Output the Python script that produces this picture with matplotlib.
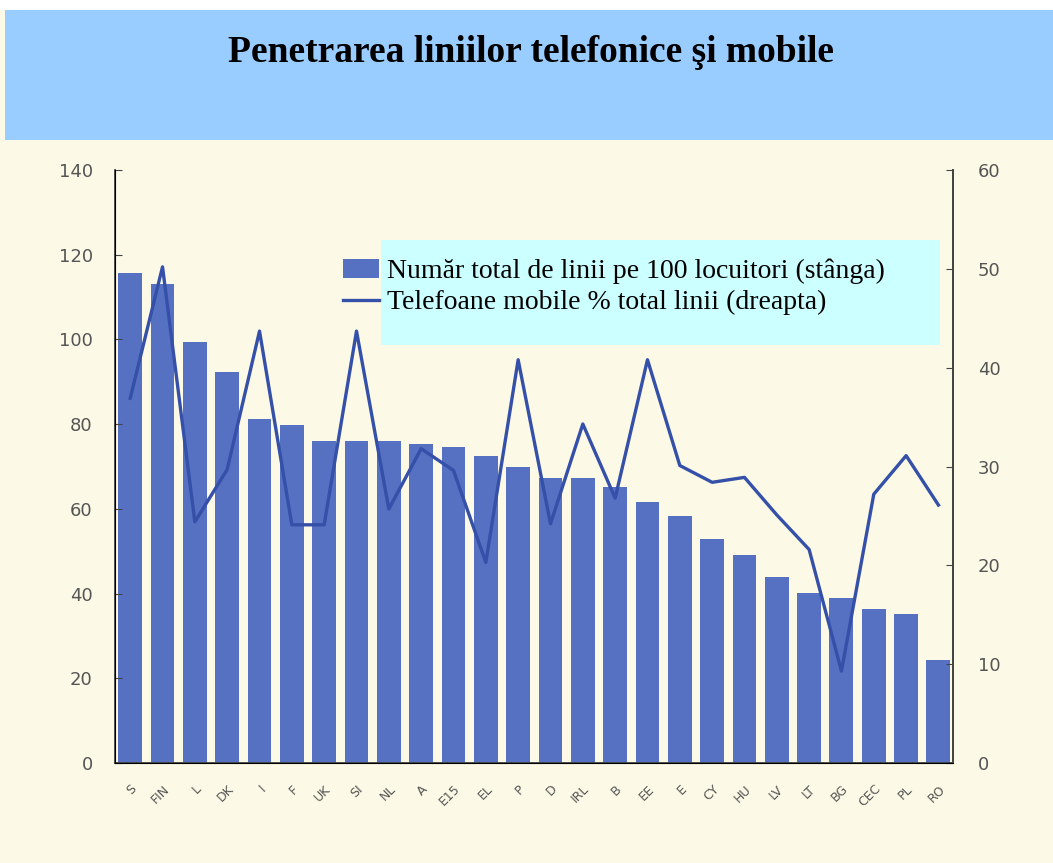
import matplotlib.pyplot as plt
from matplotlib.patches import Rectangle
from matplotlib.lines import Line2D
from matplotlib.patches import Patch
import numpy as np

# country codes on the x axis
countries = ["S", "FIN", "L", "DK", "I", "F", "UK", "SI", "NL", "A", "E15", "EL", "P",
             "D", "IRL", "B", "EE", "E", "CY", "HU", "LV", "LT", "BG", "CEC", "PL", "RO"]

# total lines per 100 inhabitants (left axis)
total_lines = [115.7, 113, 99.5, 92.2, 81.2, 79.9, 76, 76, 76, 75.4, 74.7, 72.5, 69.9,
               67.2, 67.2, 65.2, 61.6, 58.4, 52.8, 49, 43.9, 40.2, 38.9, 36.3, 35.1, 24.3]

# mobile phones as % of total lines (right axis)
mobile_share = [36.9, 50.2, 24.4, 29.7, 43.7, 24.1, 24.1, 43.7, 25.7, 31.8, 29.6, 20.3, 40.8,
                24.2, 34.3, 26.8, 40.8, 30.1, 28.4, 28.9, 25.1, 21.6, 9.3, 27.2, 31.1, 26.1]

title = "Penetrarea liniilor telefonice şi mobile"
label_bars = "Număr total de linii pe 100 locuitori (stânga)"
label_line = "Telefoane mobile % total linii (dreapta)"

bar_color = "#5670C2"
line_color = "#3550A8"
paper = "#FCFAE6"
tick_grey = "#555555"

fig = plt.figure(figsize=(10.53, 8.63), dpi=100)
fig.patch.set_facecolor(paper)

# title banner
fig.patches.append(Rectangle((5 / 1053, 1 - 140 / 863), 1, 130 / 863,
                             transform=fig.transFigure, facecolor="#99CCFF",
                             edgecolor="none", zorder=0))
fig.patches.append(Rectangle((0, 1 - 10 / 863), 1, 10 / 863,
                             transform=fig.transFigure, facecolor="white",
                             edgecolor="none", zorder=0))
fig.text(531 / 1053, 1 - 52 / 863, title, ha="center", va="center",
         fontsize=27, fontweight="bold", family="Liberation Serif")

ax = fig.add_axes([115 / 1053, 100 / 863, 838 / 1053, 593 / 863])
ax.set_facecolor("none")
x = np.arange(len(countries))
ax.bar(x, total_lines, width=0.74, color=bar_color, edgecolor="none")
ax.set_xlim(-0.47, 25.45)
ax.set_ylim(0, 140)
ax.set_yticks(range(0, 141, 20))
ax.set_xticks(x)
ax.set_xticklabels(countries, rotation=45, ha="right", rotation_mode="anchor",
                   fontsize=9, color=tick_grey)
ax.tick_params(axis="x", length=0, pad=14)
ax.tick_params(axis="y", direction="in", length=5, pad=16, labelsize=13,
               labelcolor=tick_grey, color="#444444")
ax.spines["top"].set_visible(False)
for s in ["left", "bottom", "right"]:
    ax.spines[s].set_color("#444444")
    ax.spines[s].set_linewidth(1.3)

ax2 = ax.twinx()
ax2.plot(x, mobile_share, color=line_color, linewidth=2.4)
ax2.set_ylim(0, 60)
ax2.set_yticks(range(0, 61, 10))
ax2.tick_params(axis="y", direction="in", length=5, pad=18, labelsize=13,
                labelcolor=tick_grey, color="#444444")
ax2.spines["top"].set_visible(False)
ax2.spines["right"].set_color("#444444")
ax2.spines["right"].set_linewidth(1.3)

# legend box
fig.patches.append(Rectangle((381 / 1053, 1 - 345 / 863), 559 / 1053, 105 / 863,
                             transform=fig.transFigure, facecolor="#CCFFFF",
                             edgecolor="none", zorder=3))
handles = [Patch(facecolor=bar_color, edgecolor="none"),
           Line2D([0], [0], color=line_color, linewidth=2.4)]
leg = fig.legend(handles, [label_bars, label_line], loc="upper left",
                 bbox_to_anchor=(343 / 1053, 1 - 259 / 863), frameon=False,
                 prop={"family": "Liberation Serif", "size": 20},
                 handlelength=1.3, handleheight=0.65, handletextpad=0.3,
                 labelspacing=0.2, borderaxespad=0, borderpad=0)
leg.set_zorder(5)

fig.savefig("out.png", dpi=100, facecolor=paper)
